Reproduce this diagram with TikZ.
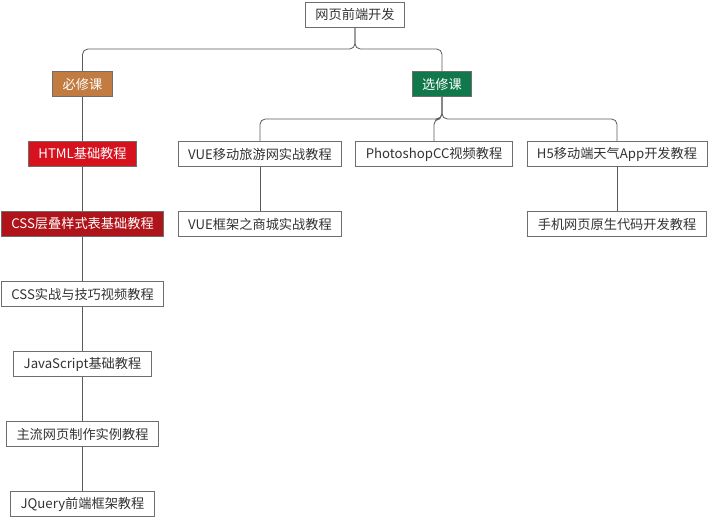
\documentclass[tikz,border=0pt]{standalone}
\usepackage{fontspec}
\setmainfont{Noto Sans CJK SC}
\usepackage{tikz}

\definecolor{boxline}{RGB}{110,110,110}
\definecolor{linkline}{RGB}{90,90,90}
\definecolor{txt}{RGB}{51,51,51}
\definecolor{bixiucol}{RGB}{194,123,64}
\definecolor{xuanxiucol}{RGB}{16,120,74}
\definecolor{htmlcol}{RGB}{215,18,31}
\definecolor{csscol}{RGB}{176,20,27}

\tikzset{
  course/.style={draw=boxline, line width=0.6pt, fill=white, text=txt, inner xsep=7.5pt, inner ysep=0pt,
    minimum height=18.75pt, font=\fontsize{9.9pt}{11pt}\selectfont},
  filled/.style={course, text=white},
  link/.style={draw=linkline, line width=0.6pt, rounded corners=4pt}
}

\begin{document}
\begin{tikzpicture}[x=0.75pt,y=0.75pt,yscale=-1,xscale=1]
\useasboundingbox (0,0) rectangle (709,517);

% Text Node
\node [course] (root) at (355,14.5) {网页前端开发};
% Text Node
\node [filled, fill=bixiucol] (bixiu) at (82.5,84) {必修课};
\node [filled, fill=xuanxiucol] (xuanxiu) at (442,84) {选修课};

% required chain
\node [filled, fill=htmlcol] (html) at (82.5,154) {HTML基础教程};
\node [filled, fill=csscol] (css) at (82.5,224) {CSS层叠样式表基础教程};
\node [course] (cssskill) at (82.5,294) {CSS实战与技巧视频教程};
\node [course] (js) at (82.5,364) {JavaScript基础教程};
\node [course] (example) at (82.5,434) {主流网页制作实例教程};
\node [course] (jquery) at (82.5,504) {JQuery前端框架教程};

% elective branch
\node [course] (vuetour) at (260,154) {VUE移动旅游网实战教程};
\node [course] (ps) at (434,154) {PhotoshopCC视频教程};
\node [course] (h5) at (617,154) {H5移动端天气App开发教程};
\node [course] (vuemall) at (260,224) {VUE框架之商城实战教程};
\node [course] (mobile) at (617,224) {手机网页原生代码开发教程};

\coordinate (bus1) at (355,49);
\coordinate (bus2) at (442,119);

%Straight Lines
\draw [link] (root.south) -- (bus1) -| (bixiu.north);
\draw [link] (root.south) -- (bus1) -| (xuanxiu.north);
\draw [link] (xuanxiu.south) -- (bus2) -| (vuetour.north);
\draw [link] (xuanxiu.south) -- (bus2) -| (ps.north);
\draw [link] (xuanxiu.south) -- (bus2) -| (h5.north);

\draw [link] (bixiu.south) -- (html.north);
\draw [link] (html.south) -- (css.north);
\draw [link] (css.south) -- (cssskill.north);
\draw [link] (cssskill.south) -- (js.north);
\draw [link] (js.south) -- (example.north);
\draw [link] (example.south) -- (jquery.north);
\draw [link] (vuetour.south) -- (vuemall.north);
\draw [link] (h5.south) -- (mobile.north);

\end{tikzpicture}
\end{document}
